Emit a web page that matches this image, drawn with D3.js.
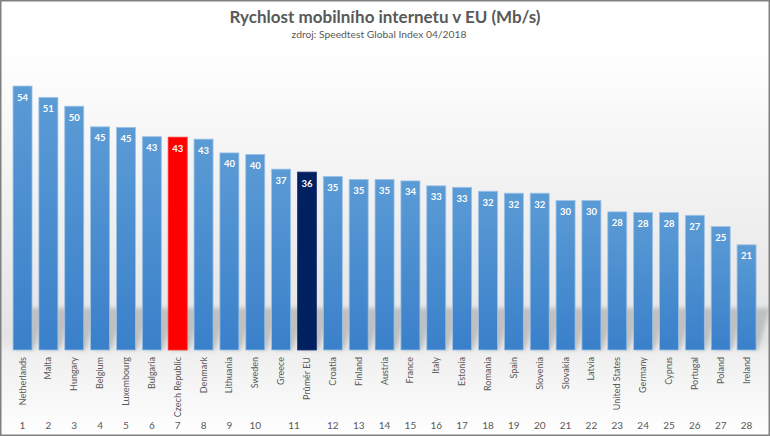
<!DOCTYPE html>
<html>
<head>
<meta charset="utf-8">
<script src="https://cdn.jsdelivr.net/npm/d3@7"></script>
<style>
html,body{margin:0;padding:0;background:#fff;}
svg{display:block;}
</style>
</head>
<body>
<svg id="chart" width="770" height="436"></svg>
<script>
const titleText = "Rychlost mobilního internetu v EU (Mb/s)";
const subtitleText = "zdroj: Speedtest Global Index 04/2018";
const countries = ["Netherlands","Malta","Hungary","Belgium","Luxembourg","Bulgaria","Czech Republic","Denmark","Lithuania","Sweden","Greece","Průměr EU","Croatia","Finland","Austria","France","Italy","Estonia","Romania","Spain","Slovenia","Slovakia","Latvia","United States","Germany","Cyprus","Portugal","Poland","Ireland"];
const values = [53.7,51.4,49.6,45.4,45.3,43.4,43.3,42.9,40.1,39.8,36.8,36.2,35.3,34.7,34.7,34.4,33.4,33.1,32.3,31.9,31.9,30.4,30.4,28.1,28.0,28.0,27.4,25.1,21.4];
const valueLabels = ["54","51","50","45","45","43","43","43","40","40","37","36","35","35","35","34","33","33","32","32","32","30","30","28","28","28","27","25","21"];
const ranks = [1,2,3,4,5,6,7,8,9,10,11,11,12,13,14,15,16,17,18,19,20,21,22,23,24,25,26,27,28];
const highlightCzech = "Czech Republic";
const highlightEU = "Průměr EU";

const W = 770, H = 436;
const svg = d3.select("#chart");
const defs = svg.append("defs");

const bg = defs.append("linearGradient").attr("id","bg").attr("x1",0).attr("y1",0).attr("x2",0).attr("y2",1);
bg.append("stop").attr("offset","0%").attr("stop-color","#ffffff");
bg.append("stop").attr("offset","10%").attr("stop-color","#ffffff");
bg.append("stop").attr("offset","78%").attr("stop-color","#e4e4e4");
bg.append("stop").attr("offset","81%").attr("stop-color","#efefef");
bg.append("stop").attr("offset","100%").attr("stop-color","#ffffff");

const barGrad = defs.append("linearGradient").attr("id","barGrad").attr("x1",0).attr("y1",0).attr("x2",0).attr("y2",1);
barGrad.append("stop").attr("offset","0%").attr("stop-color","#5b9bd5");
barGrad.append("stop").attr("offset","100%").attr("stop-color","#3a80ca");

const blur = defs.append("filter").attr("id","blur").attr("x","-50%").attr("y","-50%").attr("width","200%").attr("height","200%");
blur.append("feGaussianBlur").attr("stdDeviation",2.2);

svg.append("rect").attr("x",0).attr("y",0).attr("width",W).attr("height",H).attr("fill","url(#bg)");

const x = d3.scalePoint().domain(countries).range([9.6, 759.5]).padding(0.5);
const step = x.step();
const bw = step * 0.735;
const y = d3.scaleLinear().domain([0, 60]).range([350, 350 - 60 * 4.915]);

// shadow band between bars
const shadowG = svg.append("g").attr("filter","url(#blur)");
shadowG.selectAll("path").data(countries).join("path")
  .attr("d", d => {
    const x0 = x(d) - bw/2, x1 = x(d) + bw/2, b = y(0);
    return `M${x0+2},${b} L${x1+2},${b} L${x1+14},${b-42} L${x0+14},${b-42} Z`;
  })
  .attr("fill","#9a9a9a").attr("opacity",0.5);

// bars
svg.append("g").selectAll("rect").data(countries).join("rect")
  .attr("x", d => x(d) - bw/2)
  .attr("y", (d,i) => y(values[i]))
  .attr("width", bw)
  .attr("height", (d,i) => y(0) - y(values[i]))
  .attr("fill", d => d === highlightCzech ? "#ff0000" : d === highlightEU ? "#002060" : "url(#barGrad)")
  .attr("stroke", d => d === highlightCzech ? "#ff3333" : d === highlightEU ? "#1f3a78" : "#9cc3e8")
  .attr("stroke-width", 0.8);

// value labels
svg.append("g").selectAll("text").data(countries).join("text")
  .attr("x", d => x(d))
  .attr("y", (d,i) => y(values[i]) + 14.5)
  .attr("text-anchor","middle")
  .attr("font-family","Lato, 'Open Sans', sans-serif")
  .attr("font-weight","bold")
  .attr("font-size","9.5px")
  .attr("fill","#ffffff")
  .text((d,i) => valueLabels[i]);

// category labels (rotated)
svg.append("g").selectAll("text").data(countries).join("text")
  .attr("transform", d => `translate(${x(d)+3},357) rotate(-90)`)
  .attr("text-anchor","end")
  .attr("font-family","Lato, 'Open Sans', sans-serif")
  .attr("font-size","9px")
  .attr("fill","#595959")
  .text(d => d);

// rank row (grouped second-level labels)
const rankGroups = d3.groups(countries.map((c,i) => ({c, r: ranks[i]})), d => d.r);
svg.append("g").selectAll("text").data(rankGroups).join("text")
  .attr("x", g => d3.mean(g[1], e => x(e.c)))
  .attr("y", 429)
  .attr("text-anchor","middle")
  .attr("font-family","Lato, 'Open Sans', sans-serif")
  .attr("font-size","10px")
  .attr("fill","#595959")
  .text(g => g[0]);

// titles
svg.append("text").attr("x",385).attr("y",23).attr("text-anchor","middle")
  .attr("font-family","Lato, 'Open Sans', sans-serif").attr("font-weight","bold").attr("font-size","17px")
  .attr("fill","#595959").text(titleText);
svg.append("text").attr("x",379).attr("y",38).attr("text-anchor","middle")
  .attr("font-family","Lato, 'Open Sans', sans-serif").attr("font-size","10.3px")
  .attr("fill","#595959").text(subtitleText);

// frame
svg.append("rect").attr("x",0.75).attr("y",0.75).attr("width",W-1.5).attr("height",H-1.5)
  .attr("fill","none").attr("stroke","#808080").attr("stroke-width",1.5);
</script>
</body>
</html>
